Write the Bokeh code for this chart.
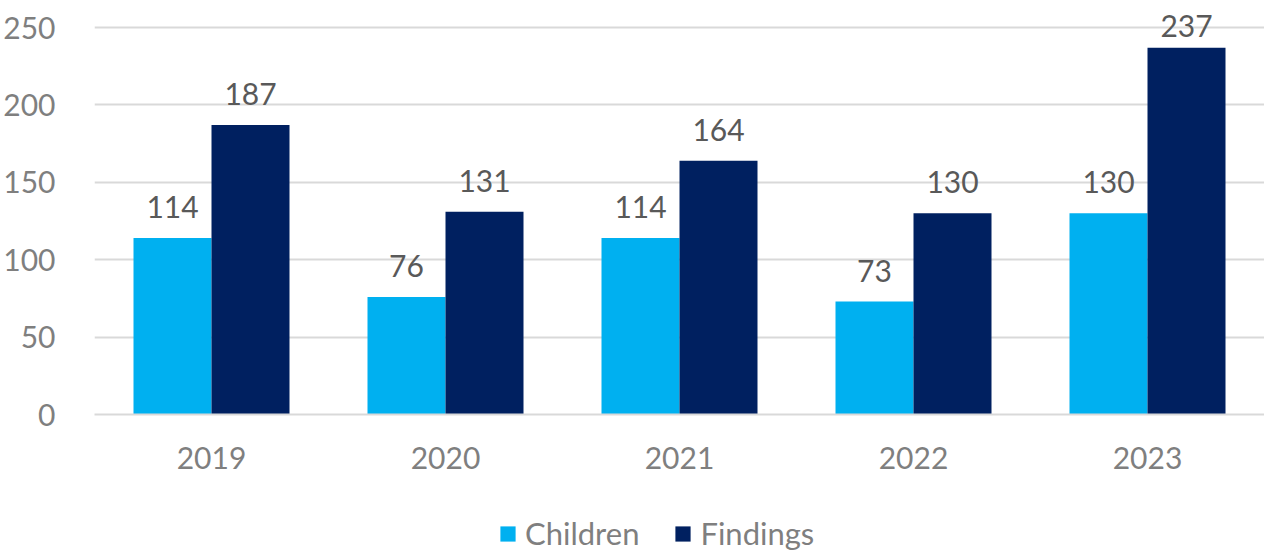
from bokeh.plotting import figure
from bokeh.layouts import column
from bokeh.models import ColumnDataSource, Range1d, FactorRange, FixedTicker, LabelSet, Legend, LegendItem
from bokeh.core.properties import value
from bokeh.transform import dodge
from bokeh.embed import file_html
from bokeh.resources import INLINE

years = ["2019", "2020", "2021", "2022", "2023"]
children = [114, 76, 114, 73, 130]
findings = [187, 131, 164, 130, 237]
y_ticks = [0, 50, 100, 150, 200, 250]
series_names = ["Children", "Findings"]

FONT = "Lato"
C_CHILD = "#00B0F0"
C_FIND = "#002060"

W = 1264
MAIN_H = 490
LEG_H = 64
Y_END = 267.5
FRAME_H = 414
PX_PER_UNIT = FRAME_H / Y_END


def label_offsets(vals):
    # keep labels inside the chart area, like the original (Excel) does
    return [min(20, (Y_END - v) * PX_PER_UNIT - 36) for v in vals]


src = ColumnDataSource(dict(
    year=years, children=children, findings=findings,
    children_lbl=[str(v) for v in children],
    findings_lbl=[str(v) for v in findings],
    children_off=label_offsets(children),
    findings_off=label_offsets(findings),
))

p = figure(width=W, height=MAIN_H, x_range=FactorRange(*years), y_range=Range1d(0, Y_END),
           output_backend="svg", toolbar_location=None,
           min_border_left=92, min_border_right=0, min_border_top=0, min_border_bottom=MAIN_H - FRAME_H)
p.outline_line_color = None
p.background_fill_color = "white"
p.border_fill_color = "white"

p.vbar(x=dodge("year", -1/6, range=p.x_range), top="children", width=1/3, source=src,
       fill_color=C_CHILD, line_color=None)
p.vbar(x=dodge("year", 1/6, range=p.x_range), top="findings", width=1/3, source=src,
       fill_color=C_FIND, line_color=None)

for col, off in (("children", -1/6), ("findings", 1/6)):
    p.add_layout(LabelSet(x=dodge("year", off, range=p.x_range), y=col, text=col + "_lbl", source=src,
                          text_align="center", text_baseline="alphabetic", y_offset=col + "_off",
                          text_font=value(FONT), text_font_size=value("30px"),
                          text_color=value("#595959")))

p.yaxis.ticker = FixedTicker(ticks=y_ticks)
p.ygrid.ticker = FixedTicker(ticks=y_ticks)
p.ygrid.grid_line_color = "#D9D9D9"
p.ygrid.grid_line_width = 2
p.xgrid.grid_line_color = None

for ax in (p.xaxis, p.yaxis):
    ax.major_tick_line_color = None
    ax.minor_tick_line_color = None
    ax.major_label_text_font = FONT
    ax.major_label_text_font_size = "30px"
    ax.major_label_text_color = "#7F7F7F"
p.yaxis.axis_line_color = None
p.yaxis.major_label_standoff = 33
p.xaxis.axis_line_color = "#D9D9D9"
p.xaxis.axis_line_width = 2
p.xaxis.major_label_standoff = 26

# legend strip
lf = figure(width=W, height=LEG_H, x_range=Range1d(0, 1), y_range=Range1d(0, 1),
            output_backend="svg", toolbar_location=None,
            x_axis_location=None, y_axis_location=None,
            min_border_left=0, min_border_right=0, min_border_top=0, min_border_bottom=0)
lf.outline_line_color = None
lf.background_fill_color = "white"
lf.border_fill_color = "white"
lf.xgrid.grid_line_color = None
lf.ygrid.grid_line_color = None
d1 = lf.vbar(x=[5], top=[5], bottom=[4], width=0.1, fill_color=C_CHILD, line_color=None)
d2 = lf.vbar(x=[5], top=[5], bottom=[4], width=0.1, fill_color=C_FIND, line_color=None)
legend = Legend(items=[LegendItem(label=series_names[0], renderers=[d1]),
                       LegendItem(label=series_names[1], renderers=[d2])],
                orientation="horizontal", location=(404, 2),
                label_text_font=FONT, label_text_font_size="31px", label_text_color="#7F7F7F",
                glyph_width=19, glyph_height=19, label_standoff=8, spacing=34,
                padding=0, margin=0, label_height=30,
                border_line_color=None, background_fill_color=None)
lf.add_layout(legend, "center")

layout = column(p, lf, spacing=0)
open("out.html", "w").write(file_html(layout, INLINE))
